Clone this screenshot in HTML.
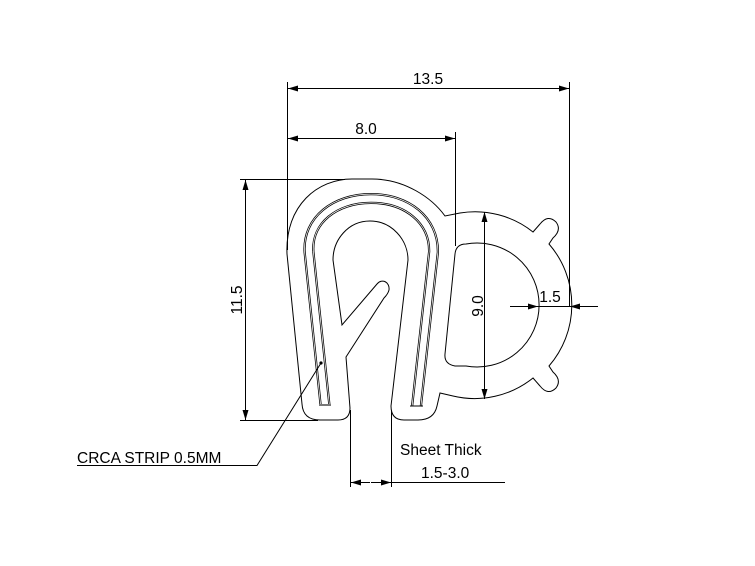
<!DOCTYPE html>
<html><head><meta charset="utf-8"><style>
html,body{margin:0;padding:0;background:#fff;}
svg{display:block;}
text{font-family:"Liberation Sans",sans-serif;fill:#000;}
</style></head><body>
<svg width="755" height="566" viewBox="0 0 755 566" xmlns="http://www.w3.org/2000/svg">
<defs>
<marker id="a" viewBox="0 0 10 6" refX="10" refY="3" markerWidth="11" markerHeight="6" orient="auto-start-reverse" markerUnits="userSpaceOnUse"><path d="M0,0 L10,3 L0,6 Z" fill="#000"/></marker>
</defs>
<g fill="none" stroke="#000" stroke-width="1">
<path d="M350,408 Q350,420 338,420 L320,420 Q303,420 302,404 L287,254 C285,205 318,179 352,179 L372,179 C405,179 432,198 445,216 L460,213
A93,93 0 0 1 533,232 L540,224 Q548,214 556,222 Q562,230 553,238 L549,244
A93,93 0 0 1 549,366 L553,372 Q562,380 556,388 Q548,396 540,386 L533,378
A93,93 0 0 1 453,396 L440,393 L437,406 Q434,420 418,420 L404,420 Q391,420 391,406
L408,260 C408,240 392,221 370,221 C348,221 333,240 333,260 L342,325 L377,284 C382,278 390,282 389,290 C388,294 386,296 384,298 L346,357 L350,408"/>
<path d="M466,244 A62,62 0 1 1 466,366 L455,366 Q444,364 445,354 L455,254 Q456,244 466,244 Z"/>
</g>
<g fill="none" stroke-linecap="butt">
<path d="M325,405 L309,252 C307,220 335,198.5 371,198.5 C407,198.5 434,220 433.5,252 L416.5,406" stroke="#000" stroke-width="11"/>
<path d="M325,405 L309,252 C307,220 335,198.5 371,198.5 C407,198.5 434,220 433.5,252 L416.5,406" stroke="#fff" stroke-width="9.5"/>
<path d="M325,405 L309,252 C307,220 335,198.5 371,198.5 C407,198.5 434,220 433.5,252 L416.5,406" stroke="#000" stroke-width="8"/>
<path d="M325,405 L309,252 C307,220 335,198.5 371,198.5 C407,198.5 434,220 433.5,252 L416.5,406" stroke="#fff" stroke-width="6.5"/>
<line x1="319" y1="405" x2="331" y2="405" stroke="#777" stroke-width="2"/>
<line x1="410" y1="406" x2="423" y2="406" stroke="#000" stroke-width="1"/>
</g>
<g stroke="#000" stroke-width="1" fill="none">
<line x1="287.5" y1="82" x2="287.5" y2="250"/>
<line x1="455.5" y1="132" x2="455.5" y2="246"/>
<line x1="569.5" y1="82" x2="569.5" y2="306"/>
<line x1="240" y1="179.5" x2="345" y2="179.5"/>
<line x1="240" y1="420.5" x2="318" y2="420.5"/>
<line x1="350.5" y1="410" x2="350.5" y2="487"/>
<line x1="391.5" y1="410" x2="391.5" y2="487"/>
<line x1="288" y1="88.5" x2="569" y2="88.5" marker-start="url(#a)" marker-end="url(#a)"/>
<line x1="288" y1="138.5" x2="455" y2="138.5" marker-start="url(#a)" marker-end="url(#a)"/>
<line x1="245.5" y1="180" x2="245.5" y2="420" marker-start="url(#a)" marker-end="url(#a)"/>
<line x1="484.5" y1="212" x2="484.5" y2="399" marker-start="url(#a)" marker-end="url(#a)"/>
<line x1="510" y1="306.5" x2="538" y2="306.5" marker-end="url(#a)"/>
<line x1="598" y1="306.5" x2="570" y2="306.5" marker-end="url(#a)"/>
<line x1="538" y1="306.5" x2="570" y2="306.5"/>
<line x1="370" y1="482.5" x2="351" y2="482.5" marker-end="url(#a)"/>
<line x1="371" y1="482.5" x2="391" y2="482.5" marker-end="url(#a)"/>
<line x1="391" y1="482.5" x2="505" y2="482.5"/>
<polyline points="77,465.5 257,465.5 321,363"/>
</g>
<circle cx="321" cy="363" r="1.6" fill="#000"/>
<g font-size="15.5">
<text x="428" y="84" text-anchor="middle">13.5</text>
<text x="366" y="134" text-anchor="middle">8.0</text>
<text x="550" y="302" text-anchor="middle">1.5</text>
<text transform="translate(242,300) rotate(-90)" text-anchor="middle">11.5</text>
<text transform="translate(483,306) rotate(-90)" text-anchor="middle">9.0</text>
<text x="77" y="463">CRCA STRIP 0.5MM</text>
<text x="400" y="455">Sheet Thick</text>
<text x="421" y="478">1.5-3.0</text>
</g>
</svg>
</body></html>
